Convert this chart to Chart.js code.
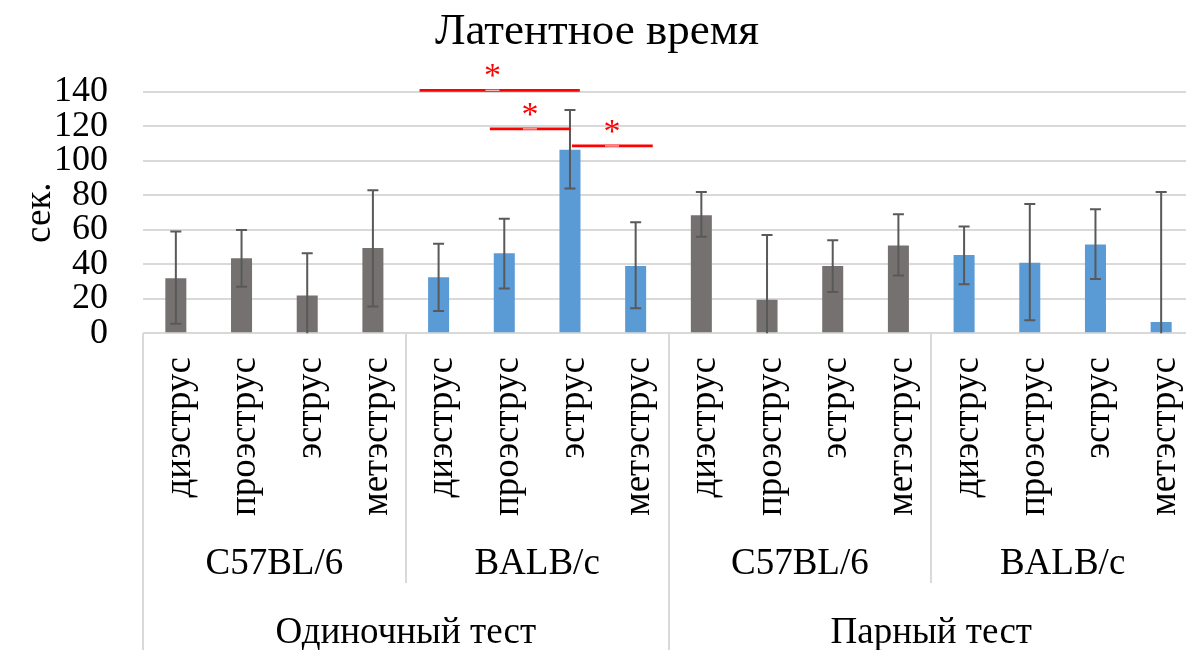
<!DOCTYPE html>
<html>
<head>
<meta charset="utf-8">
<script src="https://cdn.jsdelivr.net/npm/chart.js@4.4.1/dist/chart.umd.min.js"></script>
<style>
html, body { margin: 0; padding: 0; overflow: hidden; background: #fff; }
#wrap { width: 1200px; height: 650px; position: relative; }
</style>
</head>
<body>
<div id="wrap"><canvas id="c"></canvas></div>
<script>
// ---- data ----
const stages = ['диэструс', 'проэструс', 'эструс', 'метэструс'];
const strains = ['C57BL/6', 'BALB/c', 'C57BL/6', 'BALB/c'];
const tests = ['Одиночный тест', 'Парный тест'];
const categories = [].concat(stages, stages, stages, stages);
const values   = [32, 43.5, 22, 49.5,   32.5, 46.5, 106.5, 39,   68.5, 19.5, 39, 51,   45.5, 41, 51.5, 6.5];
const errLow   = [5.5, 27, 0, 15.5,     13, 26, 84, 14.5,        56, 0, 24, 33.5,      28.5, 7.5, 31.5, 0];
const errHigh  = [59, 60, 46.5, 83,     52, 66.5, 129.5, 64.5,   82, 57, 54, 69,       62, 75, 72, 82];
const yTicks = [0, 20, 40, 60, 80, 100, 120, 140];
// significance brackets (category index units, value units)
const sigFrom = [3.71, 4.78, 6.03];
const sigTo   = [6.15, 6.01, 7.26];
const sigY    = [141, 118.6, 108.7];
const sigStar = [4.82, 5.39, 6.64];

const GREY = '#767171', BLUE = '#5B9BD5';
const strainColor = { 'C57BL/6': GREY, 'BALB/c': BLUE };
const barColors = categories.map((_, i) => strainColor[strains[Math.floor(i / 4)]]);
const FONT = "'Liberation Serif', 'Times New Roman', serif";

const overlay = {
  id: 'overlay',
  afterDatasetsDraw(chart) {
    const ctx = chart.ctx, xs = chart.scales.x, ys = chart.scales.y;
    const base = ys.getPixelForValue(0);
    // error bars
    ctx.save();
    ctx.strokeStyle = '#595959';
    ctx.lineWidth = 2;
    for (let i = 0; i < values.length; i++) {
      const x = xs.getPixelForValue(i);
      const yt = ys.getPixelForValue(errHigh[i]);
      const yb = Math.min(ys.getPixelForValue(errLow[i]), base);
      ctx.beginPath();
      ctx.moveTo(x, yt); ctx.lineTo(x, yb);
      ctx.moveTo(x - 5.5, yt); ctx.lineTo(x + 5.5, yt);
      if (errLow[i] > 0) { ctx.moveTo(x - 5.5, yb); ctx.lineTo(x + 5.5, yb); }
      ctx.stroke();
    }
    ctx.restore();

    // significance markers
    ctx.save();
    ctx.fillStyle = '#ff0000';
    ctx.font = '34px ' + FONT;
    ctx.textAlign = 'center';
    ctx.textBaseline = 'alphabetic';
    for (let k = 0; k < sigY.length; k++) {
      const y = ys.getPixelForValue(sigY[k]);
      const sx = xs.getPixelForValue(sigStar[k]);
      ctx.strokeStyle = '#ff0000';
      ctx.lineWidth = 2.8;
      ctx.beginPath();
      ctx.moveTo(xs.getPixelForValue(sigFrom[k]), y);
      ctx.lineTo(xs.getPixelForValue(sigTo[k]), y);
      ctx.stroke();
      ctx.strokeStyle = 'rgba(255,255,255,0.8)';
      ctx.lineWidth = 1.2;
      ctx.beginPath();
      ctx.moveTo(sx - 7, y); ctx.lineTo(sx + 7, y);
      ctx.stroke();
      ctx.fillText('*', sx, y - 4);
    }
    ctx.restore();

    // multi-level category axis
    ctx.save();
    const bottom = chart.height;
    ctx.strokeStyle = '#d9d9d9';
    ctx.lineWidth = 2;
    ctx.beginPath();
    [-0.5, 7.5, 15.5].forEach(v => {
      const x = Math.round(xs.getPixelForValue(v));
      ctx.moveTo(x, base); ctx.lineTo(x, bottom);
    });
    [3.5, 11.5].forEach(v => {
      const x = Math.round(xs.getPixelForValue(v));
      ctx.moveTo(x, base); ctx.lineTo(x, 583);
    });
    ctx.stroke();

    ctx.fillStyle = '#000';
    ctx.font = '37px ' + FONT;
    for (let i = 0; i < categories.length; i++) {
      const x = xs.getPixelForValue(i);
      ctx.save();
      ctx.translate(x + 4, 357);
      ctx.rotate(-Math.PI / 2);
      ctx.textAlign = 'right';
      ctx.textBaseline = 'middle';
      ctx.fillText(categories[i], 0, 0);
      ctx.restore();
    }
    ctx.textAlign = 'center';
    ctx.textBaseline = 'middle';
    strains.forEach((s, g) => {
      const x = (xs.getPixelForValue(4 * g - 0.5) + xs.getPixelForValue(4 * g + 3.5)) / 2;
      ctx.fillText(s, x, 564);
    });
    tests.forEach((t, g) => {
      const x = (xs.getPixelForValue(8 * g - 0.5) + xs.getPixelForValue(8 * g + 7.5)) / 2;
      ctx.fillText(t, x, 633);
    });
    ctx.restore();
  }
};

new Chart(document.getElementById('c'), {
  type: 'bar',
  data: {
    labels: categories,
    datasets: [{
      data: values,
      backgroundColor: barColors,
      borderWidth: 0,
      categoryPercentage: 1,
      barPercentage: 0.32
    }]
  },
  options: {
    responsive: true,
    maintainAspectRatio: false,
    animation: false,
    layout: { padding: { top: 0, right: 6, bottom: 316.7, left: 0 } },
    plugins: {
      legend: { display: false },
      tooltip: { enabled: false },
      title: {
        display: true,
        text: 'Латентное время',
        color: '#000',
        font: { family: FONT, size: 45, weight: 'normal', lineHeight: 1.2 },
        padding: { top: 5, bottom: 33 }
      }
    },
    scales: {
      x: { display: false },
      y: {
        min: 0, max: 140,
        afterBuildTicks(scale) { scale.ticks = yTicks.map(v => ({ value: v })); },
        afterFit(scale) { scale.width = 143; },
        border: { display: false },
        grid: { color: '#d9d9d9', lineWidth: 2, drawTicks: false },
        ticks: {
          color: '#000',
          padding: 35,
          autoSkip: false,
          font: { family: FONT, size: 36 }
        },
        title: {
          display: true,
          text: 'сек.',
          color: '#000',
          font: { family: FONT, size: 37 },
          padding: { top: 18, bottom: 0 }
        }
      }
    }
  },
  plugins: [overlay]
});
</script>
</body>
</html>
